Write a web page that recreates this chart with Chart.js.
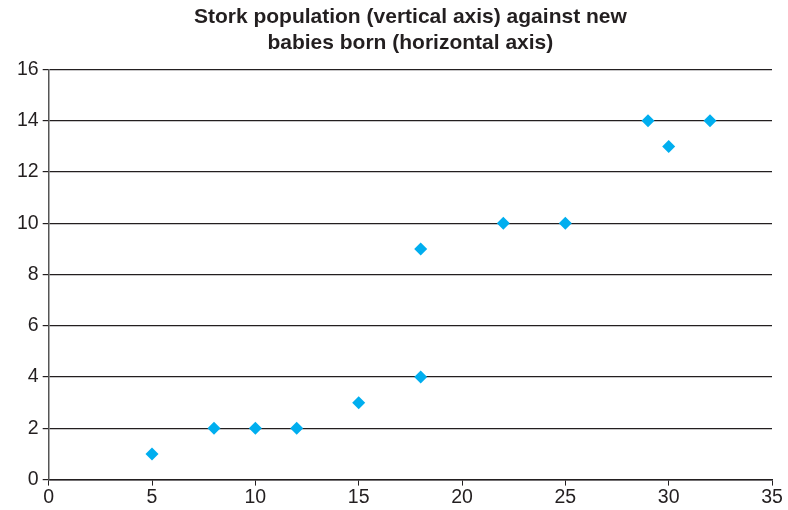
<!DOCTYPE html>
<html>
<head>
<meta charset="utf-8">
<script src="https://cdn.jsdelivr.net/npm/chart.js@4.4.1/dist/chart.umd.min.js"></script>
<style>
    html, body { margin: 0; padding: 0; background: #fff; }
    #wrap { width: 788px; height: 510px; }
</style>
</head>
<body>
<div id="wrap"><canvas id="storkChart"></canvas></div>
<script>
const titleLines = [
    'Stork population (vertical axis) against new',
    'babies born (horizontal axis)'
];

// babies born (x) vs stork population (y)
const babies = [5, 8, 10, 12, 15, 18, 18, 22, 25, 29, 30, 32];
const storks = [1, 2, 2, 2, 3, 4, 9, 10, 10, 14, 13, 14];

const xTicks = [0, 5, 10, 15, 20, 25, 30, 35];
const yTicks = [0, 2, 4, 6, 8, 10, 12, 14, 16];

const points = babies.map((b, i) => ({ x: b, y: storks[i] }));

const ctx = document.getElementById('storkChart').getContext('2d');

new Chart(ctx, {
    type: 'scatter',
    data: {
        datasets: [{
            label: 'Storks',
            data: points,
            pointStyle: 'rectRot',
            pointRadius: 6.5,
            pointHoverRadius: 6.5,
            backgroundColor: '#00aeef',
            borderColor: '#00aeef',
            borderWidth: 0
        }]
    },
    options: {
        responsive: true,
        maintainAspectRatio: false,
        animation: false,
        layout: {
            padding: { left: 13, right: 16, top: 4, bottom: 1 }
        },
        plugins: {
            legend: { display: false },
            tooltip: { enabled: false },
            title: {
                display: true,
                text: titleLines,
                fullSize: false,
                color: '#231f20',
                font: { family: 'Liberation Sans, Arial, sans-serif', size: 21, weight: 'bold', lineHeight: 1.25 },
                padding: { top: 0, bottom: 13 }
            }
        },
        scales: {
            x: {
                type: 'linear',
                min: xTicks[0],
                max: xTicks[xTicks.length - 1],
                afterBuildTicks: (axis) => { axis.ticks = xTicks.map(v => ({ value: v })); },
                ticks: {
                    color: '#231f20',
                    font: { family: 'Liberation Sans, Arial, sans-serif', size: 19.5 },
                    padding: 0,
                    maxRotation: 0
                },
                grid: {
                    drawOnChartArea: false,
                    drawTicks: true,
                    tickLength: 6,
                    color: '#231f20'
                },
                border: { color: '#231f20', width: 1.5 }
            },
            y: {
                type: 'linear',
                min: yTicks[0],
                max: yTicks[yTicks.length - 1],
                afterBuildTicks: (axis) => { axis.ticks = yTicks.map(v => ({ value: v })); },
                ticks: {
                    color: '#231f20',
                    font: { family: 'Liberation Sans, Arial, sans-serif', size: 19.5 },
                    padding: 4
                },
                grid: {
                    color: '#231f20',
                    lineWidth: 1.2,
                    tickLength: 6
                },
                border: { color: '#555555', width: 1.5 }
            }
        }
    }
});
</script>
</body>
</html>
